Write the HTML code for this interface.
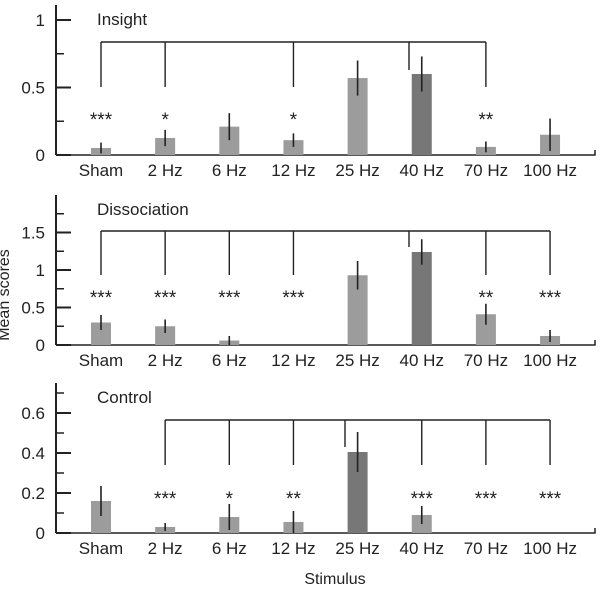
<!DOCTYPE html>
<html><head><meta charset="utf-8"><style>
html,body{margin:0;padding:0;background:#fff;}
svg{display:block;font-family:"Liberation Sans",Arial,sans-serif;}
</style></head><body>
<svg id="chart" width="603" height="591" viewBox="0 0 603 591">
<text x="9" y="295" font-size="16" text-anchor="middle" transform="rotate(-90 9 295)" fill="#222">Mean scores</text>
<text x="335" y="584" font-size="16" text-anchor="middle" fill="#222">Stimulus</text>
</svg>
<script>
const categories = ["Sham","2 Hz","6 Hz","12 Hz","25 Hz","40 Hz","70 Hz","100 Hz"];
const insightValues = [0.052,0.126,0.21,0.11,0.57,0.60,0.06,0.15];
const insightErrors = [0.04,0.06,0.10,0.05,0.13,0.13,0.04,0.12];
const insightStars = ["***","*","","*","","","**",""];
const dissocValues = [0.30,0.25,0.06,0,0.93,1.24,0.41,0.12];
const dissocErrors = [0.10,0.09,0.06,0,0.19,0.17,0.14,0.08];
const dissocStars = ["***","***","***","***","","","**","***"];
const controlValues = [0.16,0.03,0.08,0.055,0.405,0.09,0,0];
const controlErrors = [0.075,0.02,0.065,0.055,0.10,0.045,0,0];
const controlStars = ["","***","*","**","","***","***","***"];
const insightTicks = [0,0.5,1];
const dissocTicks = [0,0.5,1,1.5];
const controlTicks = [0,0.2,0.4,0.6];

const svg = document.getElementById('chart');
const NS = "http://www.w3.org/2000/svg";
function mk(tag, attrs, parent){const e=document.createElementNS(NS,tag);for(const k in attrs)e.setAttribute(k,attrs[k]);(parent||svg).appendChild(e);return e;}
const xc = i => 101 + i*64.15;

const panels = [
 {name:"insight",title:"Insight",y0:155,top:5,scale:135,vals:insightValues,errs:insightErrors,stars:insightStars,ticks:insightTicks,minor:[0.25,0.75],dark:5,
  bY:42,bFrom:0,bTo:6,drops:[0,1,3,6],mid:409,midEnd:70,dropEnd:87,starY:126},
 {name:"dissociation",title:"Dissociation",y0:345,top:195,scale:75,vals:dissocValues,errs:dissocErrors,stars:dissocStars,ticks:dissocTicks,minor:[0.25,0.75,1.25,1.75],dark:5,
  bY:231,bFrom:0,bTo:7,drops:[0,1,2,3,6,7],mid:409,midEnd:247,dropEnd:275,starY:304},
 {name:"control",title:"Control",y0:533,top:383,scale:200,vals:controlValues,errs:controlErrors,stars:controlStars,ticks:controlTicks,minor:[0.1,0.3,0.5,0.7],dark:4,
  bY:420,bFrom:1,bTo:7,drops:[1,2,3,5,6,7],mid:345,midEnd:447,dropEnd:465,starY:505}
];

panels.forEach(p=>{
  const g = mk('g',{});
  
  
  const y = v => p.y0 - v*p.scale;
  const ya = mk('line',{x1:56,y1:p.top,x2:56,y2:p.y0,stroke:'#222','stroke-width':2},g);
  
  
  const xa = mk('path',{d:`M56 ${p.y0}H595V${p.y0-5}`,stroke:'#222','stroke-width':1.5,fill:'none'},g);
  
  
  p.ticks.forEach(t=>{
    mk('line',{x1:56,y1:y(t),x2:71,y2:y(t),stroke:'#222','stroke-width':2},g);
    const tl = mk('text',{x:45,y:y(t)+6,'font-size':17,'text-anchor':'end',fill:'#222'},g);
    tl.textContent = String(t);
    
    
  });
  p.minor.forEach(t=>{ mk('line',{x1:56,y1:y(t),x2:64,y2:y(t),stroke:'#222','stroke-width':1.5},g); });
  const tt = mk('text',{x:97,y:p.top+20,'font-size':17,fill:'#222'},g);
  tt.textContent = p.title;
  
  
  categories.forEach((c,i)=>{
    const cx = xc(i);
    if(p.vals[i]>0){
      const b = mk('rect',{x:cx-10,y:y(p.vals[i]),width:20,height:p.vals[i]*p.scale,fill:i===p.dark?'#777':'#9c9c9c'},g);
      
      
      const e = mk('line',{x1:cx,y1:y(p.vals[i]+p.errs[i]),x2:cx,y2:Math.min(p.y0,y(p.vals[i]-p.errs[i])),stroke:'#222','stroke-width':1.6},g);
      
      
    }
    const lb = mk('text',{x:cx,y:p.y0+21,'font-size':17,'text-anchor':'middle',fill:'#222'},g);
    lb.textContent = c;
    
    
    if(p.stars[i]){
      const s = mk('text',{x:cx,y:p.starY,'font-size':19,'text-anchor':'middle',fill:'#222'},g);
      s.textContent = p.stars[i];
      
      
    }
  });
  let d = `M${xc(p.bFrom)} ${p.bY}H${xc(p.bTo)}`;
  p.drops.forEach(i=>{ d += `M${xc(i)} ${p.bY}V${p.dropEnd}`; });
  d += `M${p.mid} ${p.bY}V${p.midEnd}`;
  const br = mk('path',{d:d,stroke:'#222','stroke-width':1.4,fill:'none'},g);
  
  
});
</script>
</body></html>
